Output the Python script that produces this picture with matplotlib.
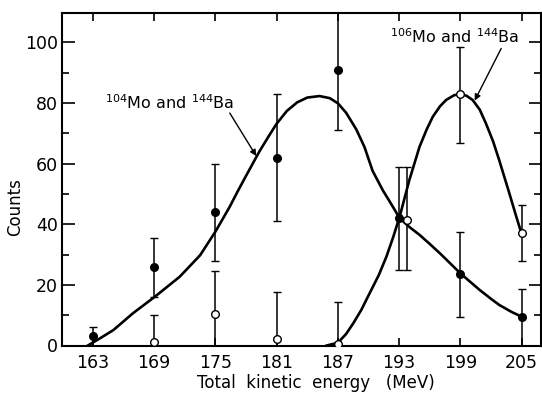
import matplotlib
matplotlib.use('Agg')
import matplotlib.pyplot as plt
import numpy as np

# 104Mo + 144Ba (filled points)
e_mo104 = [163, 169, 175, 181, 187, 193.0, 199, 205]
n_mo104 = [3, 26, 44, 62, 91, 42, 23.5, 9.5]
lo_mo104 = [0, 16, 28, 41, 71, 25, 9.5, 0]
hi_mo104 = [6, 35.5, 60, 83, 115, 59, 37.5, 18.5]

# 106Mo + 144Ba (open points)
e_mo106 = [169, 175, 181, 187, 193.8, 199, 205]
n_mo106 = [1, 10.5, 2, 0.5, 41.5, 83, 37]
lo_mo106 = [0, 0, 0, 0, 25, 66.8, 28]
hi_mo106 = [10.2, 24.6, 17.7, 14.4, 58.8, 98.4, 46.5]

# fitted curves
cx1 = [162.5, 163.8, 165.0, 166.9, 169.1, 171.5, 173.5, 175.0, 176.4, 177.2,
       178.0, 179.3, 180.3, 181.0, 182.0, 183.0, 184.0, 185.2, 186.2, 187.0,
       187.8, 188.8, 189.6, 190.4, 191.4, 192.2, 193.05, 194.0, 195.0, 196.0,
       197.0, 198.0, 199.0, 200.0, 200.9, 202.0, 202.8, 204.0, 205.0]
cy1 = [0, 2.6, 5.1, 10.6, 16.2, 22.7, 29.8, 37.6, 45.8, 51.0,
       56.0, 64.0, 69.5, 73.2, 77.4, 80.2, 81.8, 82.3, 81.6, 79.9,
       76.8, 71.3, 65.5, 57.6, 51.2, 46.8, 42.0, 39.1, 36.5, 33.5,
       30.4, 27.1, 23.8, 20.9, 18.3, 15.4, 13.4, 11.1, 9.5]

cx2 = [185.9, 187.0, 187.8, 188.5, 189.3, 190.1, 191.0, 191.75, 192.4, 193.05,
       194.0, 195.0, 195.7, 196.3, 197.0, 197.6, 198.4, 199.0, 199.6, 200.2,
       200.9, 201.5, 202.2, 202.8, 203.8, 204.4, 205.0]
cy2 = [0, 0.9, 3.8, 7.3, 11.8, 17.2, 23.2, 29.3, 35.6, 42.5,
       54.6, 65.6, 71.3, 75.5, 78.9, 81.0, 82.6, 82.9, 82.4, 81.0,
       77.8, 73.3, 67.4, 61.2, 50.2, 43.4, 36.8]

xticks = [163, 169, 175, 181, 187, 193, 199, 205]

plt.rcParams['font.family'] = ['DejaVu Sans']

fig = plt.figure(figsize=(5.42, 3.94), dpi=100)
ax = fig.add_axes([62.4 / 542, 48.5 / 394, (541 - 62.4) / 542, 332.5 / 394])

ax.plot(cx1, cy1, color='k', lw=1.9, zorder=2, solid_joinstyle='round')
ax.plot(cx2, cy2, color='k', lw=1.9, zorder=2, solid_joinstyle='round')

def bars(x, y, lo, hi, face):
    y = np.array(y)
    yerr = [y - np.array(lo), np.array(hi) - y]
    ax.errorbar(x, y, yerr=yerr, fmt='o', ms=5.5, mfc=face, mec='k', mew=1.0,
                ecolor='k', elinewidth=1.1, capsize=2.6, capthick=1.1, color='k',
                zorder=3, clip_on=True)

bars(e_mo104, n_mo104, lo_mo104, hi_mo104, 'k')
bars(e_mo106, n_mo106, lo_mo106, hi_mo106, 'white')

ax.set_xlim(160, 206.9)
ax.set_ylim(0, 109.7)
ax.set_xticks(xticks)
ax.set_xticklabels([str(t) for t in xticks])
ax.set_yticks(np.arange(0, 101, 20))
ax.set_yticks(np.arange(10, 101, 20), minor=True)

ax.tick_params(axis='both', which='both', direction='in', top=True, right=True,
               labelsize=12.5, width=1.2)
ax.tick_params(axis='x', which='major', length=6, pad=6)
ax.tick_params(axis='y', which='major', length=9, pad=3)
ax.tick_params(axis='y', which='minor', length=5)
for s in ax.spines.values():
    s.set_linewidth(1.5)

ax.text(164.2, 80, r'$^{104}$Mo and $^{144}$Ba', fontsize=11.5, va='center', ha='left')
ax.annotate('', xy=(179.0, 62.5), xytext=(176.4, 76.7),
            arrowprops=dict(arrowstyle='-|>', color='k', lw=1.0, mutation_scale=9,
                            shrinkA=0, shrinkB=0))
ax.text(192.1, 101.8, r'$^{106}$Mo and $^{144}$Ba', fontsize=11.5, va='center', ha='left')
ax.annotate('', xy=(200.4, 80.8), xytext=(203.0, 98.0),
            arrowprops=dict(arrowstyle='-|>', color='k', lw=1.0, mutation_scale=9,
                            shrinkA=0, shrinkB=0))

fig.text(15 / 542, 1 - 207 / 394, 'Counts', rotation=90, ha='center', va='center', fontsize=12)
fig.text(316 / 542, 1 - 383 / 394, 'Total  kinetic  energy   (MeV)', ha='center', va='center',
         fontsize=12)

fig.savefig('out.png', dpi=100)
